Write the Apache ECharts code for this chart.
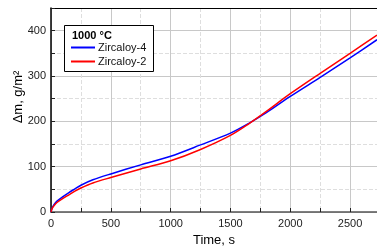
<!DOCTYPE html>
<html><head><meta charset="utf-8">
<script src="https://cdn.jsdelivr.net/npm/echarts@6/dist/echarts.min.js"></script>
<style>html,body{margin:0;padding:0;background:#fff}#c{width:377px;height:246px}</style>
</head><body><div id="c"></div>
<script>
const timeZr4 = [0, 10, 25, 50, 100, 150, 200, 250, 350, 500, 750, 1000, 1250, 1500, 1650, 1800, 2000, 2250, 2500, 2725];
const zr4 =     [0, 9, 16, 24, 34, 43, 51, 59, 71, 84, 104, 123, 148, 174, 195, 219, 255, 297, 340, 380];
const timeZr2 = [0, 10, 25, 50, 100, 150, 200, 250, 350, 500, 750, 1000, 1250, 1500, 1650, 1800, 2000, 2250, 2500, 2725];
const zr2 =     [0, 8, 14, 21, 30, 38, 46, 53, 64, 76, 95, 113, 138, 169, 194, 222, 261, 306, 350, 390];
const seriesNames = ['Zircaloy-4', 'Zircaloy-2'];
const legendTitle = '1000 °C';
const xTitle = 'Time, s';
const yTitle = 'Δm, g/m²';

const font = 'Liberation Sans, Arial, sans-serif';
const chart = echarts.init(document.getElementById('c'), null, {renderer: 'canvas'});
const pairs = (t, v) => t.map((x, i) => [x, v[i]]);
const plain = v => String(v);
chart.setOption({
  animation: false,
  textStyle: {fontFamily: font},
  grid: {left: 51, top: 8, right: 0, bottom: 34, containLabel: false, outerBoundsMode: 'none'},
  xAxis: [{
    type: 'value', min: 0, max: 2725, interval: 500,
    name: xTitle, nameLocation: 'middle', nameGap: 21,
    nameTextStyle: {fontSize: 13, color: '#000', fontFamily: font},
    axisLine: {lineStyle: {color: '#555', width: 1.5}},
    axisTick: {inside: true, length: 4, lineStyle: {color: '#222'}},
    minorTick: {show: true, splitNumber: 2, length: 4, lineStyle: {color: '#222'}},
    axisLabel: {fontSize: 11, color: '#222', margin: 6, showMaxLabel: false, fontFamily: font, formatter: plain},
    splitLine: {show: true, lineStyle: {color: '#c8c8c8', width: 1}},
    minorSplitLine: {show: true, lineStyle: {color: '#dedede', type: 'dashed'}}
  }, {
    type: 'value', position: 'top', min: 0, max: 2725,
    axisLine: {show: true, lineStyle: {color: '#000', width: 1}},
    axisTick: {show: false}, axisLabel: {show: false}, splitLine: {show: false}
  }],
  yAxis: {
    type: 'value', min: 0, max: 450, interval: 100,
    axisLine: {show: true, lineStyle: {color: '#000', width: 1.5}},
    axisTick: {inside: true, length: 4, lineStyle: {color: '#222'}},
    minorTick: {show: true, splitNumber: 2, length: 4, lineStyle: {color: '#222'}},
    axisLabel: {fontSize: 11, color: '#222', margin: 5, showMaxLabel: false, fontFamily: font, formatter: plain},
    splitLine: {show: true, lineStyle: {color: '#c8c8c8', width: 1}},
    minorSplitLine: {show: true, lineStyle: {color: '#dedede', type: 'dashed'}}
  },
  legend: {
    left: 71, top: 42, orient: 'vertical', itemGap: 3, z: 30, padding: [0, 0, 0, 0],
    itemWidth: 24, itemHeight: 2, icon: 'rect',
    textStyle: {fontSize: 11, color: '#111', fontFamily: font, padding: [0, 0, 0, -2]},
    data: seriesNames
  },
  graphic: [
    {type: 'rect', left: 64, top: 25, z: 10,
     shape: {width: 89, height: 46}, style: {fill: '#fff', stroke: '#000', lineWidth: 1}},
    {type: 'text', left: 72, top: 30, z: 31,
     style: {text: legendTitle, font: 'bold 11px ' + font, fill: '#000'}},
    {type: 'text', x: 18, y: 97, rotation: Math.PI / 2, z: 31,
     style: {text: yTitle, font: '13px ' + font, fill: '#000', align: 'center', verticalAlign: 'middle'}}
  ],
  series: [
    {name: seriesNames[0], type: 'line', smooth: 0.3, showSymbol: false, z: 3,
     data: pairs(timeZr4, zr4), lineStyle: {color: '#0000ff', width: 1.5}, itemStyle: {color: '#0000ff'}},
    {name: seriesNames[1], type: 'line', smooth: 0.3, showSymbol: false, z: 4,
     data: pairs(timeZr2, zr2), lineStyle: {color: '#ff0000', width: 1.5}, itemStyle: {color: '#ff0000'}}
  ]
});
</script></body></html>
